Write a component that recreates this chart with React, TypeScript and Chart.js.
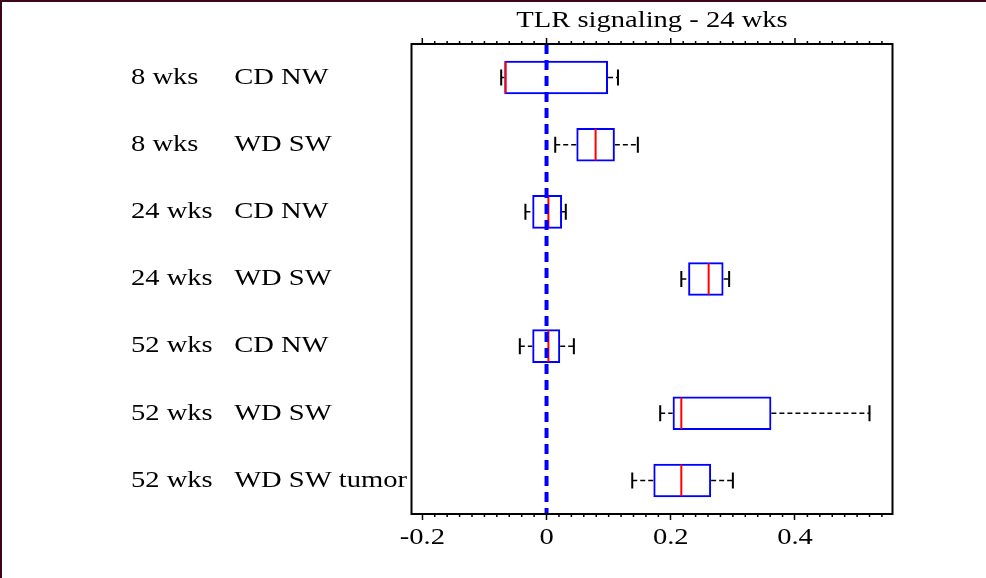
import React, { useEffect, useRef } from "react";
import { Chart, registerables } from "chart.js";

Chart.register(...registerables);

// Groups shown on the vertical axis, top to bottom
const categories = [
  "8 wks     CD NW",
  "8 wks     WD SW",
  "24 wks   CD NW",
  "24 wks   WD SW",
  "52 wks   CD NW",
  "52 wks   WD SW",
  "52 wks   WD SW tumor",
];

// Five-number summaries per group
const whiskerLow = [-0.073, 0.014, -0.034, 0.217, -0.043, 0.183, 0.138];
const quartile1 = [-0.068, 0.048, -0.023, 0.228, -0.023, 0.203, 0.172];
const medians = [-0.066, 0.079, 0.003, 0.261, 0.003, 0.217, 0.217];
const quartile3 = [0.099, 0.11, 0.025, 0.285, 0.022, 0.362, 0.265];
const whiskerHigh = [0.115, 0.147, 0.031, 0.294, 0.044, 0.52, 0.3];

// Horizontal axis
const xMin = -0.2174;
const xMax = 0.557;
const xTickValues = [-0.2, 0, 0.2, 0.4];
const xTickLabels = ["-0.2", "0", "0.2", "0.4"];
const minorStep = 0.02;
const referenceValue = 0;

const FONT = "'Liberation Serif', 'Times New Roman', serif";
const FONT_SIZE = 24;
// wide-set serif lettering
const TEXT_STRETCH = 1.19;

const stretchTextPlugin = {
  id: "stretchText",
  beforeInit(chart: any) {
    const ctx = chart.ctx;
    const fill = ctx.fillText.bind(ctx);
    ctx.fillText = (text: string, x: number, y: number, maxWidth?: number) => {
      ctx.save();
      ctx.translate(x, y);
      ctx.scale(TEXT_STRETCH, 1);
      if (maxWidth === undefined || maxWidth === null) fill(text, 0, 0);
      else fill(text, 0, 0, maxWidth / TEXT_STRETCH);
      ctx.restore();
    };
  },
};

const boxWhiskerPlugin = {
  id: "boxWhisker",
  afterDatasetsDraw(chart: any) {
    const { ctx, chartArea, scales } = chart;
    const x = scales.x;
    const y = scales.y;
    const meta = chart.getDatasetMeta(0);
    ctx.save();

    categories.forEach((_, i) => {
      const cy = y.getPixelForValue(i);
      const bar: any = meta.data[i];
      const half = bar ? bar.height / 2 : 16;
      const pLow = x.getPixelForValue(whiskerLow[i]);
      const pQ1 = x.getPixelForValue(quartile1[i]);
      const pQ3 = x.getPixelForValue(quartile3[i]);
      const pHigh = x.getPixelForValue(whiskerHigh[i]);
      const pMed = x.getPixelForValue(medians[i]);

      // dashed whiskers
      ctx.strokeStyle = "#000000";
      ctx.lineWidth = 1.5;
      ctx.setLineDash([5, 3]);
      ctx.beginPath();
      ctx.moveTo(pLow, cy);
      ctx.lineTo(pQ1, cy);
      ctx.moveTo(pQ3, cy);
      ctx.lineTo(pHigh, cy);
      ctx.stroke();

      // whisker caps
      ctx.setLineDash([]);
      ctx.lineWidth = 2;
      ctx.beginPath();
      ctx.moveTo(pLow, cy - 8);
      ctx.lineTo(pLow, cy + 8);
      ctx.moveTo(pHigh, cy - 8);
      ctx.lineTo(pHigh, cy + 8);
      ctx.stroke();

      // median
      ctx.strokeStyle = "#ff0000";
      ctx.lineWidth = 2;
      ctx.beginPath();
      ctx.moveTo(pMed, cy - half + 1);
      ctx.lineTo(pMed, cy + half - 1);
      ctx.stroke();
    });

    // reference line at zero
    const p0 = x.getPixelForValue(referenceValue);
    ctx.strokeStyle = "#0000ff";
    ctx.lineWidth = 4;
    ctx.setLineDash([10, 6]);
    ctx.beginPath();
    ctx.moveTo(p0, chartArea.top);
    ctx.lineTo(p0, chartArea.bottom);
    ctx.stroke();
    ctx.setLineDash([]);

    // frame
    ctx.strokeStyle = "#000000";
    ctx.lineWidth = 2;
    ctx.strokeRect(
      chartArea.left,
      chartArea.top,
      chartArea.right - chartArea.left,
      chartArea.bottom - chartArea.top
    );

    // minor ticks along top and bottom, major ticks along top
    ctx.lineWidth = 1.5;
    const kStart = Math.ceil(xMin / minorStep);
    const kEnd = Math.floor(xMax / minorStep);
    for (let k = kStart; k <= kEnd; k++) {
      const v = k * minorStep;
      const px = x.getPixelForValue(v);
      if (px <= chartArea.left + 2 || px >= chartArea.right - 2) continue;
      const isMajor = k % 10 === 0;
      ctx.beginPath();
      ctx.moveTo(px, chartArea.top);
      ctx.lineTo(px, chartArea.top - (isMajor ? 6 : 3));
      if (!isMajor) {
        ctx.moveTo(px, chartArea.bottom);
        ctx.lineTo(px, chartArea.bottom + 3);
      }
      ctx.stroke();
    }
    ctx.restore();
  },
};

export default function App() {
  const canvasRef = useRef<HTMLCanvasElement | null>(null);

  useEffect(() => {
    document.body.style.margin = "0";
    const canvas = canvasRef.current;
    if (!canvas) return;
    const chart = new Chart(canvas, {
      type: "bar",
      data: {
        labels: categories,
        datasets: [
          {
            data: categories.map((_, i) => [quartile1[i], quartile3[i]]) as any,
            backgroundColor: "rgba(255,255,255,0)",
            borderColor: "#0000ff",
            borderWidth: 2,
            borderSkipped: false,
            barPercentage: 0.5,
            categoryPercentage: 1,
          },
        ],
      },
      options: {
        indexAxis: "y",
        animation: false,
        responsive: false,
        devicePixelRatio: 1,
        layout: { padding: { left: 131, right: 93.5, top: 0, bottom: 0 } },
        plugins: {
          legend: { display: false },
          tooltip: { enabled: false },
          title: {
            display: true,
            text: "TLR signaling - 24 wks",
            fullSize: false,
            color: "#000000",
            font: { family: FONT, size: FONT_SIZE, weight: "normal", lineHeight: 1.2 },
            padding: { top: 6.4, bottom: 8.8 },
          },
        },
        scales: {
          x: {
            type: "linear",
            position: "bottom",
            min: xMin,
            max: xMax,
            afterBuildTicks: (axis: any) => {
              axis.ticks = xTickValues.map((v) => ({ value: v }));
            },
            afterFit: (axis: any) => {
              axis.height = 64;
            },
            grid: {
              display: true,
              drawOnChartArea: false,
              drawTicks: true,
              tickLength: 6,
              tickWidth: 1.5,
              tickColor: "#000000",
            },
            border: { display: false },
            ticks: {
              autoSkip: false,
              maxRotation: 0,
              padding: 3,
              color: "#000000",
              font: { family: FONT, size: FONT_SIZE, lineHeight: 1.2 },
              callback: (value: any) => {
                const idx = xTickValues.findIndex((v) => Math.abs(v - Number(value)) < 1e-9);
                return idx >= 0 ? xTickLabels[idx] : "";
              },
            },
          },
          y: {
            type: "category",
            position: "left",
            afterFit: (axis: any) => {
              axis.width = 280.5;
            },
            grid: { display: false },
            border: { display: false },
            ticks: {
              crossAlign: "far",
              color: "#000000",
              font: { family: FONT, size: FONT_SIZE, lineHeight: 1.2 },
            },
          },
        },
      },
      plugins: [stretchTextPlugin, boxWhiskerPlugin],
    });
    return () => chart.destroy();
  }, []);

  return (
    <div style={{ position: "relative", width: 986, height: 578, background: "#ffffff", overflow: "hidden" }}>
      <canvas ref={canvasRef} width={986} height={578} style={{ position: "absolute", left: 0, top: 0 }} />
      <div
        style={{
          position: "absolute",
          left: 0,
          top: 0,
          width: 986,
          height: 578,
          boxSizing: "border-box",
          borderLeft: "2px solid #3a0618",
          borderTop: "2px solid #3a0618",
          pointerEvents: "none",
        }}
      />
    </div>
  );
}
